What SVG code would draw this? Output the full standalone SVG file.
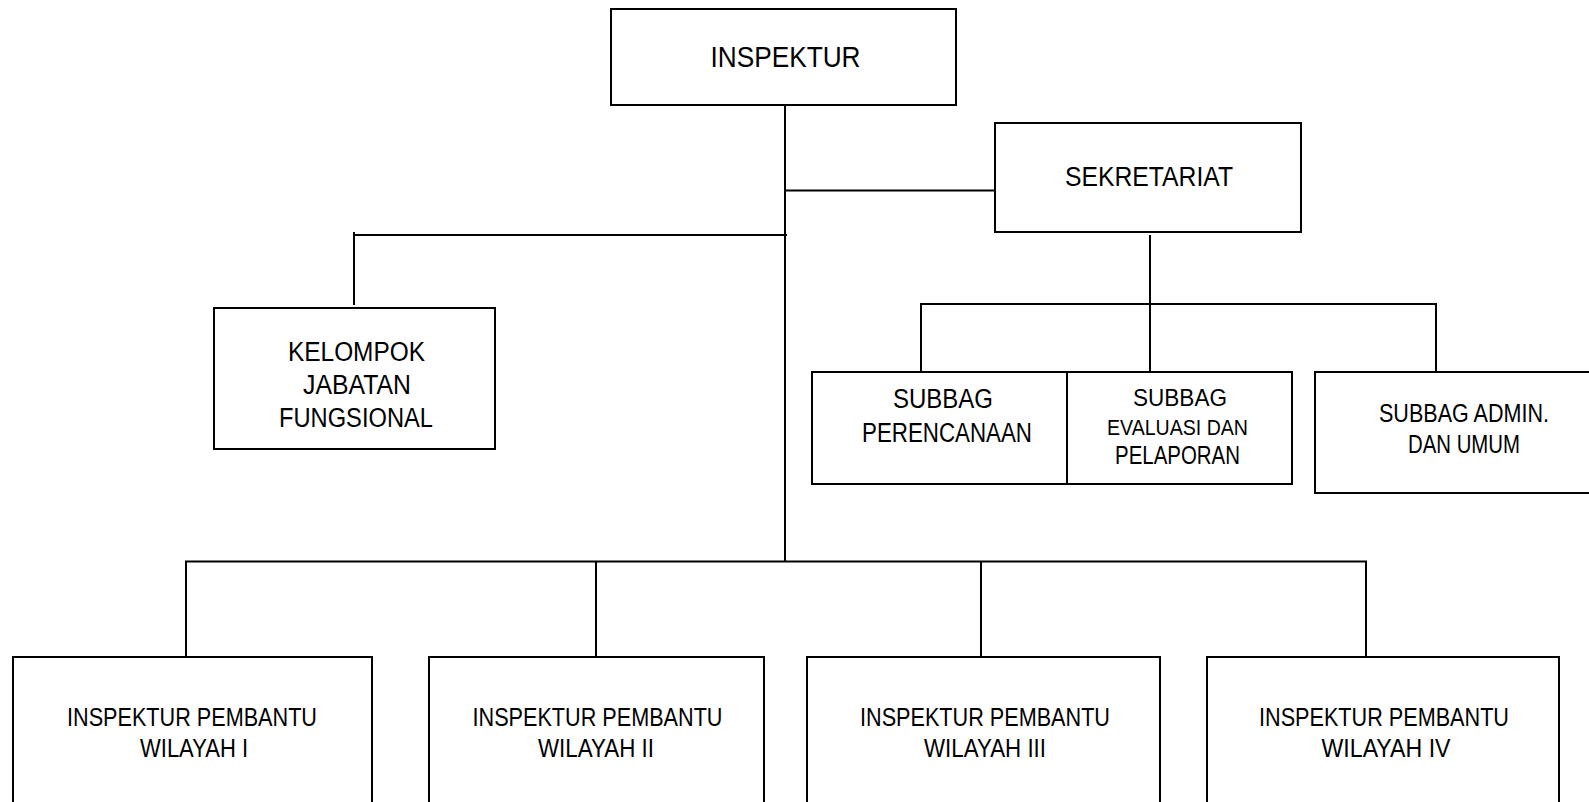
<svg xmlns="http://www.w3.org/2000/svg" width="1589" height="802" viewBox="0 0 1589 802">
<style>
.box{fill:#fff;stroke:#000;stroke-width:2}
.ln{stroke:#000;stroke-width:2;fill:none}
text{font-family:"Liberation Sans",Arial,sans-serif;fill:#000;text-anchor:middle}
</style>
<rect width="1589" height="802" fill="#fff"/>
<g id="connectors">
<line class="ln" x1="785" y1="105" x2="785" y2="562"/>
<line class="ln" x1="785" y1="190.5" x2="995" y2="190.5"/>
<line class="ln" x1="354" y1="235" x2="787" y2="235"/>
<line class="ln" x1="354" y1="232" x2="354" y2="305"/>
<line class="ln" x1="1150" y1="235" x2="1150" y2="372"/>
<line class="ln" x1="920" y1="304" x2="1437" y2="304"/>
<line class="ln" x1="921" y1="304" x2="921" y2="372"/>
<line class="ln" x1="1436" y1="304" x2="1436" y2="375"/>
<line class="ln" x1="185" y1="561.5" x2="1367" y2="561.5"/>
<line class="ln" x1="186" y1="561.5" x2="186" y2="657"/>
<line class="ln" x1="596" y1="561.5" x2="596" y2="657"/>
<line class="ln" x1="981" y1="561.5" x2="981" y2="657"/>
<line class="ln" x1="1366" y1="561.5" x2="1366" y2="657"/>
</g>
<g id="inspektur">
<rect class="box" x="611" y="9" width="345" height="96"/>
<text x="785.5" y="66.5" font-size="30" textLength="150" lengthAdjust="spacingAndGlyphs">INSPEKTUR</text>
</g>
<g id="sekretariat">
<rect class="box" x="995" y="123" width="306" height="109"/>
<text x="1149" y="185.5" font-size="28" textLength="168" lengthAdjust="spacingAndGlyphs">SEKRETARIAT</text>
</g>
<g id="kelompok">
<rect class="box" x="214" y="308" width="281" height="141"/>
<text x="356.5" y="361" font-size="27" textLength="137" lengthAdjust="spacingAndGlyphs">KELOMPOK</text>
<text x="357" y="394" font-size="27" textLength="108" lengthAdjust="spacingAndGlyphs">JABATAN</text>
<text x="356" y="427" font-size="27" textLength="154" lengthAdjust="spacingAndGlyphs">FUNGSIONAL</text>
</g>
<g id="subbag-perencanaan">
<rect class="box" x="812" y="372" width="255" height="112"/>
<text x="943" y="408" font-size="27" textLength="100" lengthAdjust="spacingAndGlyphs">SUBBAG</text>
<text x="947" y="442" font-size="27" textLength="170" lengthAdjust="spacingAndGlyphs">PERENCANAAN</text>
</g>
<g id="subbag-evaluasi">
<rect class="box" x="1067" y="372" width="225" height="112"/>
<text x="1180" y="405.5" font-size="24" textLength="94" lengthAdjust="spacingAndGlyphs">SUBBAG</text>
<text x="1177.5" y="435" font-size="22" textLength="141" lengthAdjust="spacingAndGlyphs">EVALUASI DAN</text>
<text x="1177.5" y="464" font-size="25" textLength="125" lengthAdjust="spacingAndGlyphs">PELAPORAN</text>
</g>
<g id="subbag-admin">
<rect class="box" x="1315" y="372" width="290" height="121"/>
<text x="1464" y="422" font-size="25" textLength="170" lengthAdjust="spacingAndGlyphs">SUBBAG ADMIN.</text>
<text x="1464" y="453" font-size="25" textLength="112" lengthAdjust="spacingAndGlyphs">DAN UMUM</text>
</g>
<g id="wilayah1">
<rect class="box" x="13" y="657" width="359" height="170"/>
<text x="192" y="726" font-size="26" textLength="250" lengthAdjust="spacingAndGlyphs">INSPEKTUR PEMBANTU</text>
<text x="194" y="756.5" font-size="26" textLength="108" lengthAdjust="spacingAndGlyphs">WILAYAH I</text>
</g>
<g id="wilayah2">
<rect class="box" x="429" y="657" width="335" height="170"/>
<text x="597.5" y="726" font-size="26" textLength="250" lengthAdjust="spacingAndGlyphs">INSPEKTUR PEMBANTU</text>
<text x="596" y="756.5" font-size="26" textLength="116" lengthAdjust="spacingAndGlyphs">WILAYAH II</text>
</g>
<g id="wilayah3">
<rect class="box" x="807" y="657" width="353" height="170"/>
<text x="985" y="726" font-size="26" textLength="250" lengthAdjust="spacingAndGlyphs">INSPEKTUR PEMBANTU</text>
<text x="985" y="756.5" font-size="26" textLength="122" lengthAdjust="spacingAndGlyphs">WILAYAH III</text>
</g>
<g id="wilayah4">
<rect class="box" x="1207" y="657" width="352" height="170"/>
<text x="1384" y="726" font-size="26" textLength="250" lengthAdjust="spacingAndGlyphs">INSPEKTUR PEMBANTU</text>
<text x="1386" y="756.5" font-size="26" textLength="129" lengthAdjust="spacingAndGlyphs">WILAYAH IV</text>
</g>
</svg>
